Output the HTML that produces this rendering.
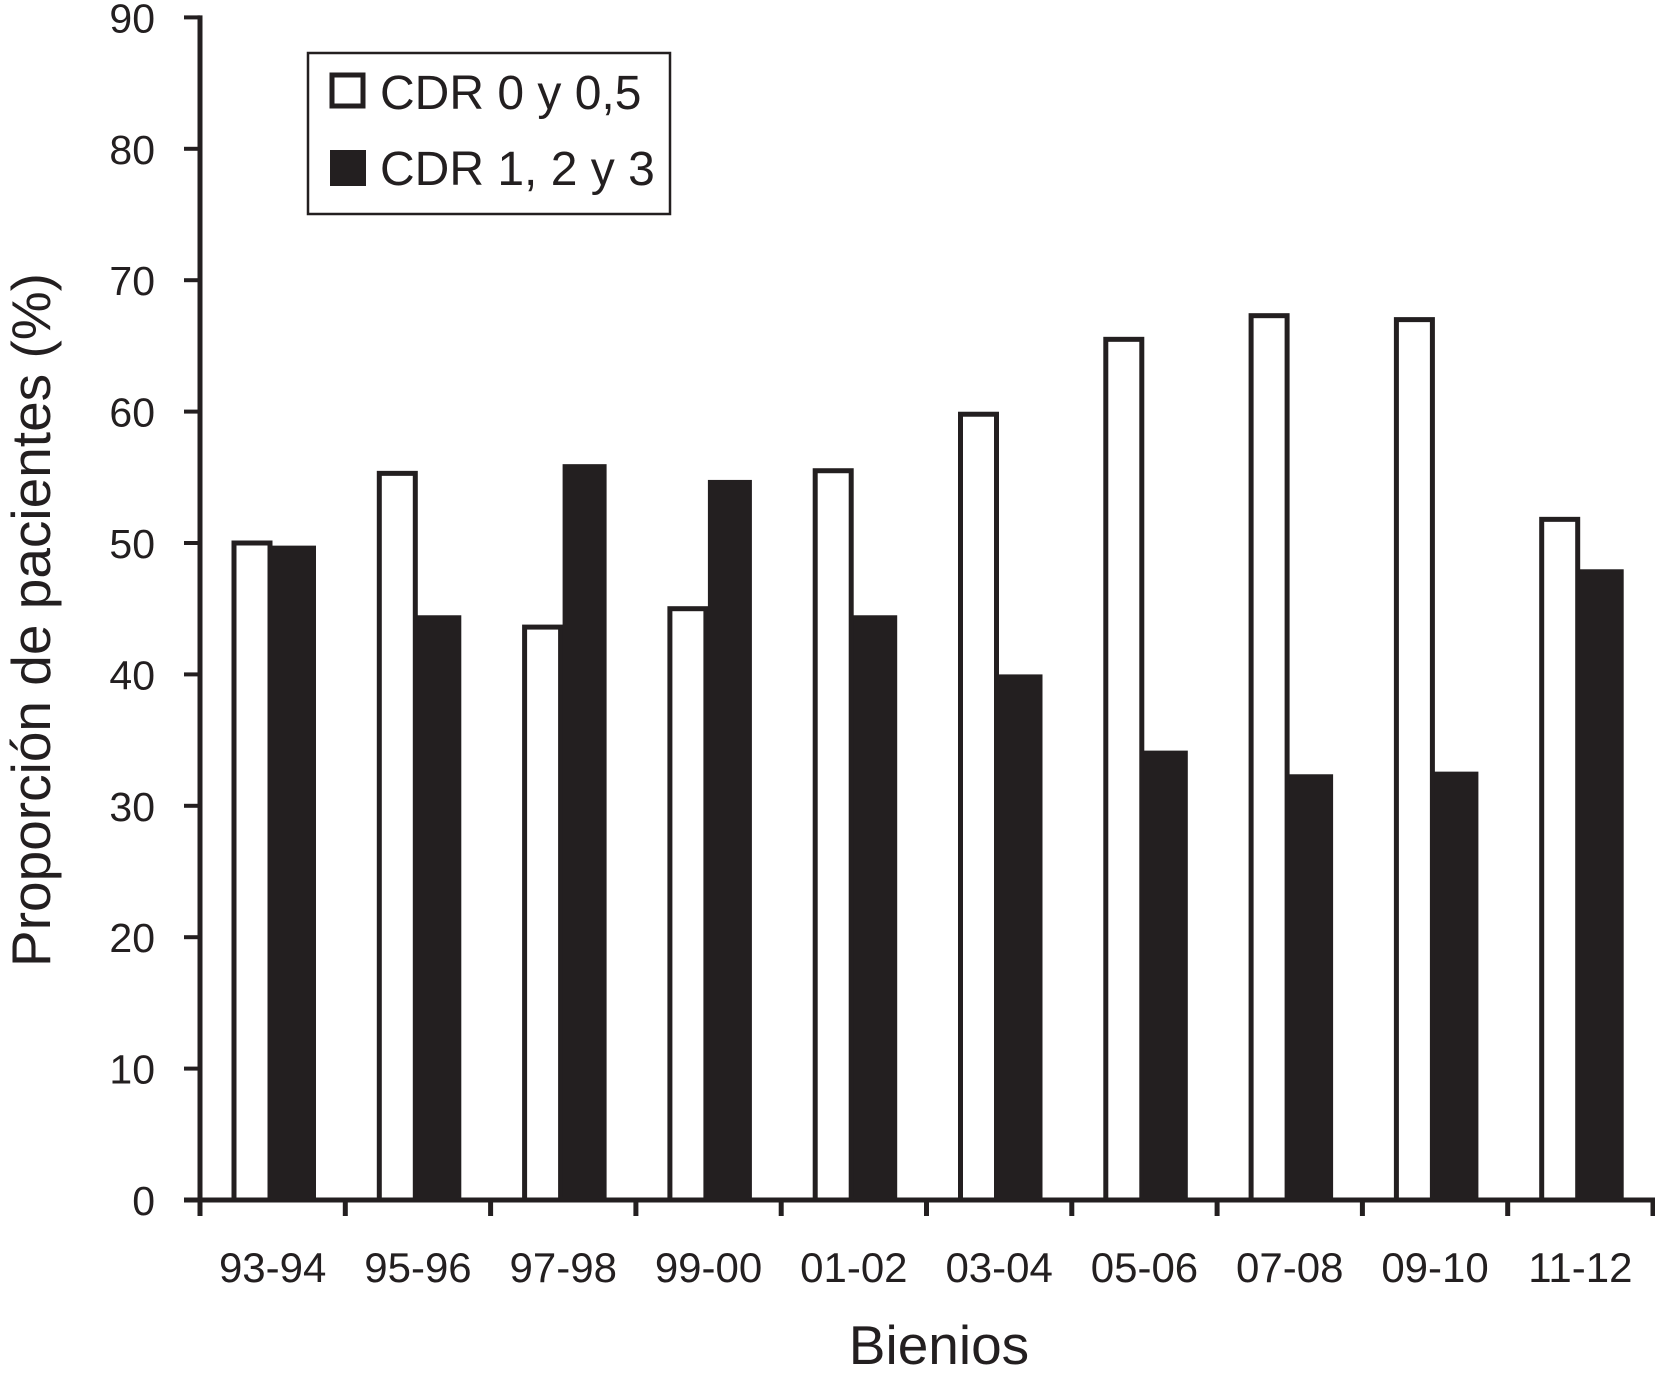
<!DOCTYPE html>
<html><head><meta charset="utf-8"><style>
body{margin:0;background:#fff}
svg{display:block;font-family:"Liberation Sans",Arial,sans-serif}
</style></head><body>
<svg id="chart" width="1655" height="1375" viewBox="0 0 1655 1375">
<g id="marks"></g>
<g id="axes"></g>
<text x="939" y="1364" font-size="55" text-anchor="middle" fill="#231f20">Bienios</text>
<text transform="translate(50,620) rotate(-90)" font-size="55" text-anchor="middle" fill="#231f20">Proporción de pacientes (%)</text>
<g>
<rect x="308" y="53" width="362" height="161" fill="#fff" stroke="#231f20" stroke-width="2.5"/>
<rect x="332" y="75" width="31" height="31" fill="#fff" stroke="#231f20" stroke-width="5"/>
<text x="380" y="109" font-size="48" fill="#231f20">CDR 0 y 0,5</text>
<rect x="330" y="150" width="36" height="36" fill="#231f20"/>
<text x="380" y="185" font-size="48" fill="#231f20">CDR 1, 2 y 3</text>
</g>
</svg>
<script>
const categories=["93-94","95-96","97-98","99-00","01-02","03-04","05-06","07-08","09-10","11-12"];
const cdrLow=[50,55.3,43.6,45,55.5,59.8,65.5,67.3,67,51.8];
const cdrHigh=[49.8,44.5,56,54.8,44.5,40,34.2,32.4,32.6,48];
const yTicks=[0,10,20,30,40,50,60,70,80,90];
const NS="http://www.w3.org/2000/svg";
const X0=200,GW=145.3,Y0=1200,K=13.14;
const y=v=>Y0-v*K;
const gx=i=>X0+i*GW;
function mk(t,a,p){const e=document.createElementNS(NS,t);for(const k in a)e.setAttribute(k,a[k]);p.appendChild(e);return e;}
const marks=document.getElementById('marks'),axes=document.getElementById('axes');
categories.forEach((c,i)=>{
 const w=mk('rect',{x:gx(i)+34,y:y(cdrLow[i]),width:36,height:Y0-y(cdrLow[i]),fill:'#fff',stroke:'#231f20','stroke-width':5},marks);
 
 
 const b=mk('rect',{x:gx(i)+72,y:y(cdrHigh[i]),width:44,height:Y0-y(cdrHigh[i]),fill:'#231f20'},marks);
 
 
 const t=mk('text',{x:gx(i)+GW/2,y:1282,'font-size':42,'text-anchor':'middle',fill:'#231f20'},axes);
 t.textContent=c;
 
 
});
for(let i=0;i<=categories.length;i++){
 const tk=mk('line',{x1:gx(i),x2:gx(i),y1:Y0,y2:1216,stroke:'#231f20','stroke-width':5},axes);
 
 
}
yTicks.forEach(v=>{
 const l=mk('line',{x1:184,x2:X0,y1:y(v),y2:y(v),stroke:'#231f20','stroke-width':4},axes);
 
 
 const t=mk('text',{x:155,y:y(v)+15,'font-size':41,'text-anchor':'end',fill:'#231f20'},axes);
 t.textContent=v;
 
 
});
const ya=mk('line',{x1:X0,x2:X0,y1:y(90)-2,y2:1216,stroke:'#231f20','stroke-width':5},axes);


const xa=mk('line',{x1:184,x2:1655,y1:Y0,y2:Y0,stroke:'#231f20','stroke-width':5},axes);


</script>
</body></html>
